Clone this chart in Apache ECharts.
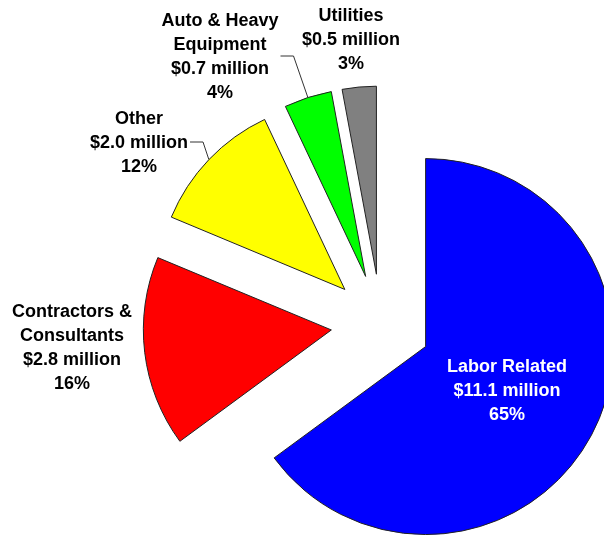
<!DOCTYPE html>
<html>
<head>
<meta charset="utf-8">
<title>Cost Breakdown</title>
<script src="https://cdn.jsdelivr.net/npm/echarts@6/dist/echarts.min.js"></script>
<style>
  html, body { margin: 0; padding: 0; background: #ffffff; }
  #chart { width: 604px; height: 535px; }
</style>
</head>
<body>
<div id="chart"></div>
<script>
// Cost categories, clockwise from 12 o'clock
const categories = ['Labor Related', 'Contractors &\nConsultants', 'Other', 'Auto & Heavy\nEquipment', 'Utilities'];
const amounts = [11.1, 2.8, 2.0, 0.7, 0.5];      // $ million
const shares = [65, 16, 12, 4, 3];               // percent of total
const colors = ['#0000FF', '#FF0000', '#FFFF00', '#00FF00', '#808080'];

// Pie geometry and explosion distance
const pieCenter = [381, 324];
const pieRadius = 188;
const explode = 50;

// Label block centres and which labels get a leader line
const labelCenters = [[507, 391], [72, 348], [139, 143], [220, 57], [351, 40]];
const leaderLabels = [2, 3];

const chart = echarts.init(document.getElementById('chart'), null, { renderer: 'canvas' });

const baseSeries = {
  type: 'pie',
  center: pieCenter,
  radius: pieRadius,
  startAngle: 90,
  clockwise: true,
  avoidLabelOverlap: false,
  emphasis: { disabled: true }
};

// Exploded slices
const sliceData = categories.map((name, i) => ({
  name: name,
  value: amounts[i],
  selected: true,
  itemStyle: { color: colors[i] }
}));

// Same values again, transparent, carrying the text labels and leader lines
const labelData = categories.map((name, i) => ({
  name: name,
  value: amounts[i],
  label: { color: i === 0 ? '#ffffff' : '#000000' },
  labelLine: { show: leaderLabels.includes(i) }
}));

chart.setOption({
  animation: false,
  backgroundColor: '#ffffff',
  series: [
    Object.assign({}, baseSeries, {
      selectedMode: 'multiple',
      selectedOffset: explode,
      itemStyle: { borderColor: '#222222', borderWidth: 1 },
      label: { show: false },
      labelLine: { show: false },
      data: sliceData
    }),
    Object.assign({}, baseSeries, {
      silent: true,
      selectedMode: false,
      itemStyle: { color: 'rgba(0,0,0,0)', borderWidth: 0 },
      label: {
        show: true,
        position: 'outside',
        fontFamily: 'Liberation Sans, Arial, sans-serif',
        fontWeight: 'bold',
        fontSize: 18,
        lineHeight: 24,
        formatter: p => `${categories[p.dataIndex]}\n$${amounts[p.dataIndex].toFixed(1)} million\n${shares[p.dataIndex]}%`
      },
      labelLine: {
        length: 15,
        length2: 15,
        lineStyle: { color: '#333333', width: 1 }
      },
      labelLayout: function (params) {
        const i = params.dataIndex;
        const c = labelCenters[i];
        const out = { x: c[0], y: c[1], align: 'center', verticalAlign: 'middle' };
        if (leaderLabels.includes(i) && params.labelLinePoints) {
          const w = params.labelRect.width;
          const endX = c[0] + w / 2 + 2;
          // push the arc-midpoint anchor out by the explosion distance
          const p0 = params.labelLinePoints[0];
          const k = (pieRadius + explode) / pieRadius;
          const start = [pieCenter[0] + (p0[0] - pieCenter[0]) * k, pieCenter[1] + (p0[1] - pieCenter[1]) * k];
          out.labelLinePoints = [start, [endX + 13, c[1] - 1], [endX, c[1] - 1]];
        }
        return out;
      },
      data: labelData
    })
  ]
});
</script>
</body>
</html>
